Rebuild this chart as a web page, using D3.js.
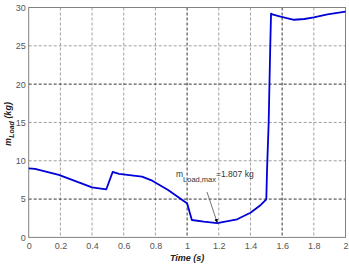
<!DOCTYPE html>
<html>
<meta charset="UTF-8">
<script src="https://d3js.org/d3.v7.min.js"></script>
<style>
  body { margin:0; background:#fff; }
  .tick text { font-family: Arial, "Liberation Sans", sans-serif; font-size: 9px; fill: #555; }
  .lab { font-family: Arial, "Liberation Sans", sans-serif; font-weight: bold; font-style: italic; font-size: 9px; fill: #222; }
  .note { font-family: Arial, "Liberation Sans", sans-serif; font-size: 8.5px; fill: #333; }
</style>
<body>
<svg id="viz" width="349" height="267"></svg>
<script>
// time (s) and load mass (kg)
var time = [0, 0.04, 0.19, 0.4, 0.49, 0.53, 0.57, 0.715, 0.78, 0.88, 0.99, 1.0, 1.03, 1.105, 1.19, 1.316, 1.4, 1.465, 1.5, 1.505, 1.515, 1.525, 1.53, 1.538, 1.59, 1.675, 1.74, 1.8, 1.886, 2.0];
var mass = [9.02, 8.93, 8.15, 6.54, 6.28, 8.54, 8.28, 7.93, 7.4, 6.19, 4.6, 4.45, 2.27, 2.05, 1.85, 2.36, 3.22, 4.23, 4.97, 9.0, 15.0, 25.0, 29.2, 29.1, 28.8, 28.4, 28.5, 28.7, 29.1, 29.45];
var xTicks = [0, 0.2, 0.4, 0.6, 0.8, 1, 1.2, 1.4, 1.6, 1.8, 2];
var yTicks = [0, 5, 10, 15, 20, 25, 30];
var darkX = [1, 1.6];
var darkY = [5, 20];

var m = {left: 28.7, right: 345.5, top: 7.5, bottom: 237.4};
var x = d3.scaleLinear().domain([0, 2]).range([m.left, m.right]);
var y = d3.scaleLinear().domain([0, 30]).range([m.bottom, m.top]);

var svg = d3.select("#viz");

// grid
svg.append("g").selectAll("line").data(xTicks.slice(1, -1)).enter().append("line")
  .attr("x1", d => x(d)).attr("x2", d => x(d))
  .attr("y1", m.top).attr("y2", m.bottom)
  .attr("stroke", d => darkX.indexOf(d) >= 0 ? "#000" : "#888")
  .attr("stroke-width", 0.8).attr("stroke-dasharray", "3,2");
svg.append("g").selectAll("line").data(yTicks.slice(1, -1)).enter().append("line")
  .attr("y1", d => y(d)).attr("y2", d => y(d))
  .attr("x1", m.left).attr("x2", m.right)
  .attr("stroke", d => darkY.indexOf(d) >= 0 ? "#000" : "#888")
  .attr("stroke-width", 0.8).attr("stroke-dasharray", "3,2");

// axes
var xAxis = d3.axisBottom(x).tickValues(xTicks).tickSize(0).tickPadding(5).tickFormat(d3.format("~g"));
var gx = svg.append("g").attr("transform", "translate(0," + m.bottom + ")").call(xAxis);
var yAxis = d3.axisLeft(y).tickValues(yTicks).tickSize(0).tickPadding(3);
var gy = svg.append("g").attr("transform", "translate(" + m.left + ",0)").call(yAxis);
gx.select(".domain").remove();
gy.select(".domain").remove();

svg.append("rect")
  .attr("x", m.left).attr("y", m.top)
  .attr("width", m.right - m.left).attr("height", m.bottom - m.top)
  .attr("fill", "none").attr("stroke", "#808080").attr("stroke-width", 1);

// curve
var line = d3.line().x((d, i) => x(time[i])).y(d => y(d));
svg.append("path").datum(mass)
  .attr("d", line)
  .attr("fill", "none").attr("stroke", "#0000d8").attr("stroke-width", 1.8)
  .attr("stroke-linejoin", "round");

// annotation
svg.append("defs").append("marker")
  .attr("id", "ah").attr("viewBox", "0 0 10 10").attr("refX", 9).attr("refY", 5)
  .attr("markerWidth", 5).attr("markerHeight", 5).attr("orient", "auto")
  .append("path").attr("d", "M0,0 L10,5 L0,10 z").attr("fill", "#000");
svg.append("line")
  .attr("x1", 207).attr("y1", 192).attr("x2", x(1.19)).attr("y2", y(1.95))
  .attr("stroke", "#555").attr("stroke-width", 0.8).attr("marker-end", "url(#ah)");
var note = svg.append("text").attr("class", "note").attr("x", 176).attr("y", 177);
note.append("tspan").text("m");
note.append("tspan").attr("dy", 5).attr("font-size", "7.5px").text("Load,max");
note.append("tspan").attr("dy", -5).text("=1.807 kg");

// labels
svg.append("text").attr("class", "lab").attr("x", (m.left + m.right) / 2).attr("y", 261)
  .attr("text-anchor", "middle").text("Time (s)");
var yl = svg.append("text").attr("class", "lab")
  .attr("transform", "translate(11,124) rotate(-90)").attr("text-anchor", "middle");
yl.append("tspan").text("m");
yl.append("tspan").attr("dy", 3).attr("font-size", "7px").text("Load");
yl.append("tspan").attr("dy", -3).text(" (kg)");
</script>
</body>
</html>
